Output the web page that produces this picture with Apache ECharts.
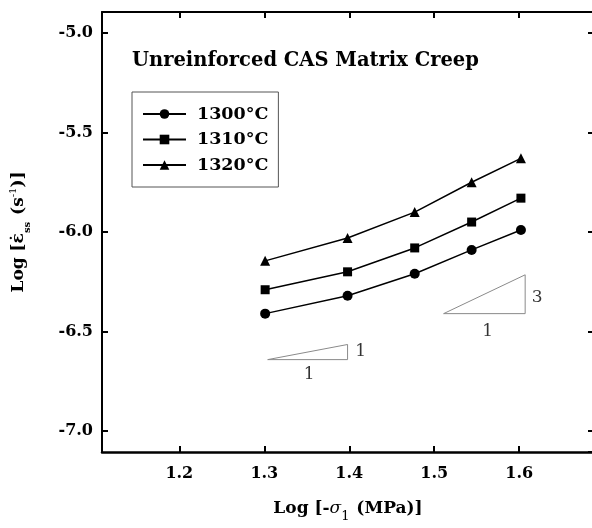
<!DOCTYPE html>
<html>
<head>
<meta charset="utf-8">
<script src="https://cdn.jsdelivr.net/npm/echarts@6/dist/echarts.min.js"></script>
<style>
    html, body { margin: 0; padding: 0; background: #fff; overflow: hidden; }
    /* a bit wider than the window so the right frame falls just off the edge */
    #chart { width: 600px; height: 528px; }
</style>
</head>
<body>
<div id="chart"></div>
<script>
// log of stress (MPa) and log of steady-state creep rate (1/s)
const logStress = [1.301, 1.398, 1.477, 1.544, 1.602];
const rate1300 = [-6.41, -6.32, -6.21, -6.09, -5.99];
const rate1310 = [-6.29, -6.20, -6.08, -5.95, -5.83];
const rate1320 = [-6.145, -6.03, -5.90, -5.75, -5.63];
const seriesNames = ["1300°C", "1310°C", "1320°C"];

// slope guide triangles (data coords) and their labels
const slope3Tri = [[1.511, -6.41], [1.607, -6.41], [1.607, -6.215], [1.511, -6.41]];
const slope1Tri = [[1.304, -6.641], [1.398, -6.641], [1.398, -6.565], [1.304, -6.641]];
const slopeLabels = [
    { name: "3", value: [1.621, -6.328] },
    { name: "1", value: [1.563, -6.498] },
    { name: "1", value: [1.4135, -6.601] },
    { name: "1", value: [1.3528, -6.717] },
];

const serif = "DejaVu Serif";
const pairs = (ys) => logStress.map((x, i) => [x, ys[i]]);

const chart = echarts.init(document.getElementById("chart"));

const axisCommon = {
    axisLine: { lineStyle: { color: "#000", width: 2.5 } },
    axisTick: { inside: true, length: 6, lineStyle: { color: "#000", width: 2 } },
    splitLine: { show: false },
};

function lineSeries(name, ys, symbol, size) {
    return {
        name: name,
        type: "line",
        data: pairs(ys),
        symbol: symbol,
        symbolSize: size,
        itemStyle: { color: "#000" },
        lineStyle: { color: "#000", width: 1.5 },
        silent: true,
    };
}

function guide(data) {
    return {
        type: "line",
        data: data,
        symbol: "none",
        lineStyle: { color: "#8a8a8a", width: 1 },
        silent: true,
    };
}

chart.setOption({
    animation: false,
    title: {
        text: "Unreinforced CAS Matrix Creep",
        left: 127,
        top: 46,
        textStyle: { fontFamily: serif, fontWeight: "bold", fontSize: 19.5, color: "#000" },
    },
    legend: {
        data: seriesNames,
        orient: "vertical",
        left: 132,
        top: 92,
        borderColor: "#555",
        borderWidth: 1,
        padding: [13, 10, 13, 10],
        itemGap: 7.5,
        itemWidth: 43,
        itemHeight: 12,
        textStyle: {
            fontFamily: serif, fontWeight: "bold", fontSize: 17.5, color: "#000",
            padding: [0, 0, 0, 6], lineHeight: 18,
        },
    },
    grid: { left: 102, right: 6, top: 12, bottom: 73 },
    xAxis: [
        {
            type: "value",
            min: 1.109,
            max: 1.688,
            splitNumber: 5,
            name: "{t|Log [-}{i|σ}{s|1}{t| (MPa)]}",
            nameLocation: "middle",
            nameGap: 46,
            nameTextStyle: {
                rich: {
                    t: { fontFamily: serif, fontWeight: "bold", fontSize: 17, color: "#000", lineHeight: 22 },
                    i: { fontFamily: serif, fontStyle: "italic", fontSize: 17, color: "#000", lineHeight: 22 },
                    s: { fontFamily: serif, fontSize: 13, color: "#000", verticalAlign: "bottom", lineHeight: 22, padding: [0, 1, -3, 0] },
                },
            },
            axisLabel: {
                showMinLabel: false,
                showMaxLabel: false,
                margin: 14,
                formatter: (v) => v.toFixed(1),
                fontFamily: serif, fontWeight: "bold", fontSize: 16, color: "#000",
            },
            ...axisCommon,
        },
        {
            type: "value",
            position: "top",
            min: 1.109,
            max: 1.688,
            splitNumber: 5,
            axisLabel: { show: false },
            ...axisCommon,
            axisLine: { lineStyle: { color: "#000", width: 2 } },
        },
    ],
    yAxis: [
        {
            type: "value",
            min: -7.105,
            max: -4.895,
            splitNumber: 4,
            name: "{t|Log [ε̇}{s|ss}{t| (s}{p|-1}{t|)]}",
            nameLocation: "middle",
            nameGap: 72,
            nameTextStyle: {
                rich: {
                    t: { fontFamily: serif, fontWeight: "bold", fontSize: 17, color: "#000", lineHeight: 22 },
                    s: { fontFamily: serif, fontWeight: "bold", fontSize: 10, color: "#000", verticalAlign: "bottom", lineHeight: 22, padding: [0, 1, -2, 0] },
                    p: { fontFamily: serif, fontSize: 10, color: "#000", verticalAlign: "top", lineHeight: 22 },
                },
            },
            axisLabel: {
                showMinLabel: false,
                showMaxLabel: false,
                margin: 9,
                formatter: (v) => v.toFixed(1),
                fontFamily: serif, fontWeight: "bold", fontSize: 16, color: "#000",
            },
            ...axisCommon,
            axisLine: { lineStyle: { color: "#000", width: 2 } },
        },
        {
            type: "value",
            position: "right",
            min: -7.105,
            max: -4.895,
            splitNumber: 4,
            axisLabel: { show: false },
            ...axisCommon,
        },
    ],
    series: [
        lineSeries(seriesNames[0], rate1300, "circle", 10),
        lineSeries(seriesNames[1], rate1310, "rect", 9),
        lineSeries(seriesNames[2], rate1320, "triangle", 10),
        guide(slope3Tri),
        guide(slope1Tri),
        {
            type: "scatter",
            data: slopeLabels,
            symbolSize: 0,
            silent: true,
            label: {
                show: true,
                position: "inside",
                formatter: (p) => p.name,
                fontFamily: serif, fontSize: 17, color: "#000",
            },
        },
    ],
});
</script>
</body>
</html>
